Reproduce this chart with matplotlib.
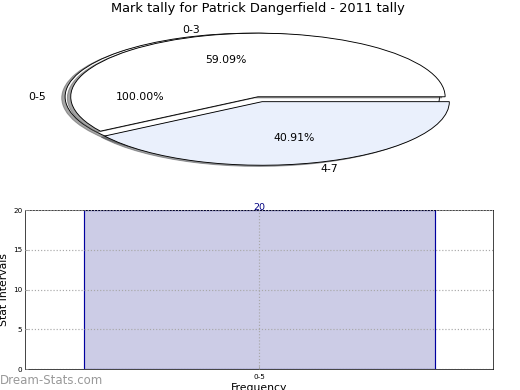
import matplotlib
matplotlib.use('Agg')
import matplotlib.pyplot as plt
from matplotlib.patches import Shadow

# values
title = 'Mark tally for Patrick Dangerfield - 2011 tally'
all_labels = ['0-5']
all_share = [100.0]
split_labels = ['0-3', '4-7']
split_share = [59.09, 40.91]
bar_labels = ['0-5']
bar_counts = [20]
yticks = [0, 5, 10, 15, 20]

fig = plt.figure(figsize=(8, 6), dpi=65)
ax1 = fig.add_axes([0.046, 0.548, 0.9, 0.4077])
ax2 = fig.add_axes([0.049, 0.0538, 0.9, 0.4077])


def layer(patches, base):
    # shadows just under their own wedges
    for p in patches:
        p.set_zorder(base - 0.5 if isinstance(p, Shadow) else base)


# pie: the whole range first, then the split on top of it
edge = dict(edgecolor='black', linewidth=1)
ax1.pie(all_share, labels=all_labels, explode=[0.03], autopct='%1.2f%%',
        shadow=True, colors=['white'], wedgeprops=edge,
        textprops=dict(fontsize=12))
n = len(ax1.patches)
layer(ax1.patches[:n], 1)
ax1.pie(split_share, labels=split_labels, explode=[0, 0.08], autopct='%1.2f%%',
        shadow=True, colors=['white', '#eaf0fc'], wedgeprops=edge,
        textprops=dict(fontsize=12))
layer(ax1.patches[n:], 2)
ax1.set_aspect('auto')
ax1.set_xlim(-1.25, 1.25)
ax1.set_ylim(-1.25, 1.25)
ax1.set_title(title, fontsize=14.4)

# bar chart
x = list(range(len(bar_labels)))
ax2.bar(x, bar_counts, width=0.75, color='#ccccE6', edgecolor='#0000a0', linewidth=1.3)
ax2.set_xlim(-0.5, 0.5)
ax2.set_ylim(0, 20)
ax2.set_yticks(yticks)
ax2.set_xticks(x)
ax2.set_xticklabels(bar_labels)
ax2.tick_params(labelsize=8, direction='in', length=3, color='#999999')
ax2.tick_params(axis='x', pad=6)
ax2.grid(True, linestyle=':', color='#a8a8a8', linewidth=1.3)
ax2.set_axisbelow(False)
for xi, c in zip(x, bar_counts):
    ax2.text(xi, c, str(c), ha='center', va='baseline', color='navy', fontsize=10.5)
ax2.set_ylabel('Stat Intervals', fontsize=12)
ax2.set_xlabel('Frequency', fontsize=12, labelpad=3)

fig.text(0.0, 6 / 390, 'Dream-Stats.com', color='#999999', fontsize=13)

fig.savefig('out.png', dpi=65)
